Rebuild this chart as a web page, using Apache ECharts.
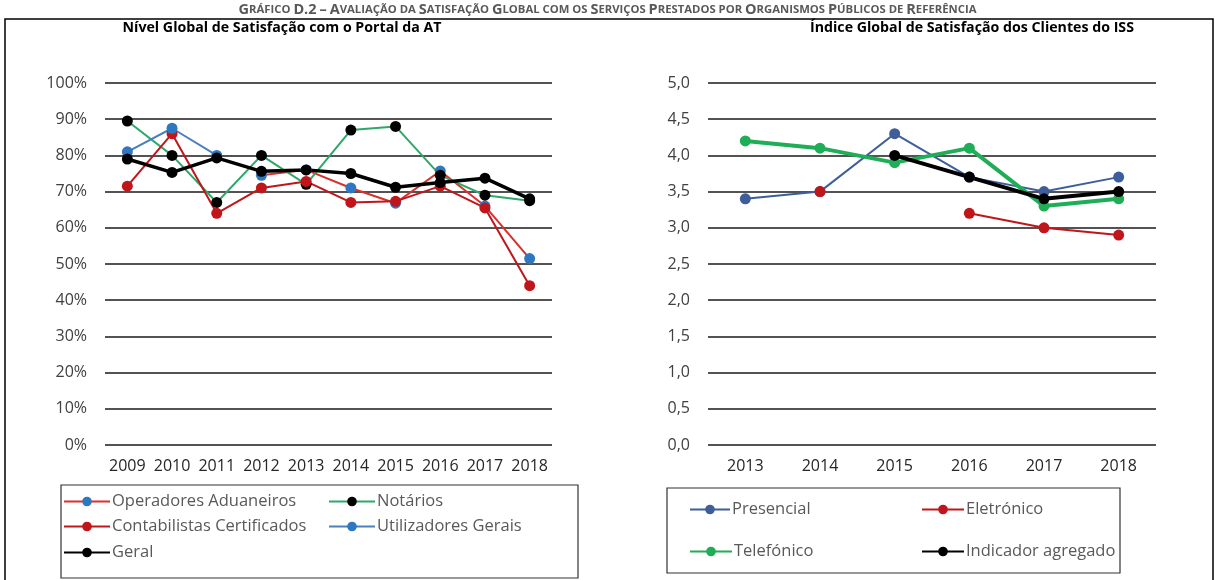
<!DOCTYPE html>
<html>
<head>
<meta charset="utf-8">
<script src="https://cdn.jsdelivr.net/npm/echarts@6/dist/echarts.min.js"></script>
<style>
  html, body { margin: 0; padding: 0; background: #fff; }
  #chart { width: 1215px; height: 580px; }
</style>
</head>
<body>
<div id="chart"></div>
<script>
// ---- Data ----
const mainTitle = 'Gráfico D.2 – Avaliação da Satisfação Global com os Serviços Prestados por Organismos Públicos de Referência';
const leftTitle = 'Nível Global de Satisfação com o Portal da AT';
const rightTitle = 'Índice Global de Satisfação dos Clientes do ISS';

const yearsLeft = ['2009', '2010', '2011', '2012', '2013', '2014', '2015', '2016', '2017', '2018'];
const operadoresAduaneiros = [null, null, null, 74.5, 76, 71, 66.8, 75.7, 66, 51.5];
const notarios = [89.5, 80, 67, 80, 72, 87, 88, 74.5, 69, 67.5];
const contabilistasCertificados = [71.5, 86, 64, 71, 72.8, 67, 67.3, 71.5, 65.5, 44];
const utilizadoresGerais = [81, 87.5, 80, null, null, null, null, null, null, null];
const geral = [79, 75.3, 79.3, 75.6, 76, 75, 71.2, 72.5, 73.7, 68];

const yearsRight = ['2013', '2014', '2015', '2016', '2017', '2018'];
const presencial = [3.4, 3.5, 4.3, 3.7, 3.5, 3.7];
const eletronico = [null, 3.5, null, 3.2, 3.0, 2.9];
const telefonico = [4.2, 4.1, 3.9, 4.1, 3.3, 3.4];
const indicadorAgregado = [null, null, 4.0, 3.7, 3.4, 3.5];

// ---- Helpers ----
function smallCaps(str) {
  let out = '';
  for (const ch of str) {
    const up = ch.toUpperCase();
    if (ch !== up) out += '{s|' + up + '}';
    else if (ch === ' ') out += '{s| }';
    else out += '{b|' + ch + '}';
  }
  return out;
}

const chart = echarts.init(document.getElementById('chart'));
const FONT = 'Open Sans';

function lineSeries(name, data, xi, lineColor, markerColor, width, size) {
  return {
    name: name, type: 'line', data: data,
    xAxisIndex: xi, yAxisIndex: xi,
    symbol: 'circle', symbolSize: size,
    connectNulls: false,
    lineStyle: { color: lineColor, width: width },
    itemStyle: { color: markerColor },
    emphasis: { disabled: true },
    animation: false
  };
}

function legendItem(name, left, top, w) {
  return {
    data: [name], left: left, top: top,
    itemWidth: w, itemHeight: 12, itemGap: 0,
    padding: 0,
    textStyle: { fontFamily: FONT, fontSize: 16.5, color: '#595959', padding: [0, 0, 0, -3] },
    selectedMode: false
  };
}

const gridLine = { show: true, lineStyle: { color: '#1a1a1a', width: 1.5 } };
const yLabel = { fontFamily: FONT, fontSize: 16, color: '#404040', margin: 18 };
const xLabel = { fontFamily: FONT, fontSize: 16, color: '#262626', margin: 13, interval: 0 };

const option = {
  backgroundColor: '#fff',
  animation: false,
  title: [
    {
      text: smallCaps(mainTitle), left: 'center', top: 2, padding: 0,
      textStyle: {
        rich: {
          b: { fontFamily: FONT, fontWeight: 'bold', fontSize: 14.5, color: '#595959' },
          s: { fontFamily: FONT, fontWeight: 'bold', fontSize: 11.3, color: '#595959' }
        }
      }
    },
    {
      text: leftTitle, left: 282, top: 21, textAlign: 'center', padding: 0,
      textStyle: { fontFamily: FONT, fontWeight: 'bold', fontSize: 14.2, color: '#000' }
    },
    {
      text: rightTitle, left: 972, top: 21, textAlign: 'center', padding: 0,
      textStyle: { fontFamily: FONT, fontWeight: 'bold', fontSize: 14.2, color: '#000' }
    }
  ],
  graphic: [
    { type: 'rect', shape: { x: 5, y: 19, width: 1208, height: 600 }, style: { fill: 'none', stroke: '#000', lineWidth: 1.5 }, silent: true },
    { type: 'rect', shape: { x: 61, y: 485, width: 517, height: 93 }, style: { fill: 'none', stroke: '#333', lineWidth: 1.2 }, silent: true },
    { type: 'rect', shape: { x: 667, y: 488, width: 453, height: 85 }, style: { fill: 'none', stroke: '#333', lineWidth: 1.2 }, silent: true }
  ],
  legend: [
    legendItem('Operadores Aduaneiros', 63, 493, 46),
    legendItem('Notários', 328, 493, 46),
    legendItem('Contabilistas Certificados', 63, 518, 46),
    legendItem('Utilizadores Gerais', 328, 518, 46),
    legendItem('Geral', 63, 544, 46),
    legendItem('Presencial', 689, 501, 40),
    legendItem('Eletrónico', 921, 501, 42),
    legendItem('Telefónico', 689, 543, 42),
    legendItem('Indicador agregado', 921, 543, 42)
  ],
  grid: [
    { left: 105, top: 83, width: 447, height: 362 },
    { left: 708, top: 83, width: 448, height: 362 }
  ],
  xAxis: [
    { type: 'category', gridIndex: 0, data: yearsLeft, boundaryGap: true,
      axisLine: { show: false }, axisTick: { show: false }, axisLabel: xLabel },
    { type: 'category', gridIndex: 1, data: yearsRight, boundaryGap: true,
      axisLine: { show: false }, axisTick: { show: false }, axisLabel: xLabel }
  ],
  yAxis: [
    { type: 'value', gridIndex: 0, min: 0, max: 100, interval: 10,
      axisLine: { show: false }, axisTick: { show: false }, splitLine: gridLine,
      axisLabel: Object.assign({}, yLabel, { formatter: '{value}%' }) },
    { type: 'value', gridIndex: 1, min: 0, max: 5, interval: 0.5,
      axisLine: { show: false }, axisTick: { show: false }, splitLine: gridLine,
      axisLabel: Object.assign({}, yLabel, { formatter: v => v.toFixed(1).replace('.', ',') }) }
  ],
  series: [
    lineSeries('Operadores Aduaneiros', operadoresAduaneiros, 0, '#d9302c', '#2e78c2', 2, 11),
    lineSeries('Notários', notarios, 0, '#2ea86a', '#000000', 2, 11),
    lineSeries('Contabilistas Certificados', contabilistasCertificados, 0, '#c0161b', '#c0161b', 2, 11),
    lineSeries('Utilizadores Gerais', utilizadoresGerais, 0, '#4a80c0', '#2e78c2', 2, 11),
    lineSeries('Geral', geral, 0, '#000000', '#000000', 3.5, 11),
    lineSeries('Presencial', presencial, 1, '#3d5e9a', '#3d5e9a', 2, 11),
    lineSeries('Eletrónico', eletronico, 1, '#c0161b', '#c0161b', 2, 11),
    lineSeries('Telefónico', telefonico, 1, '#1fae57', '#1fae57', 4, 11),
    lineSeries('Indicador agregado', indicadorAgregado, 1, '#000000', '#000000', 4, 11)
  ]
};
chart.setOption(option);
</script>
</body>
</html>
